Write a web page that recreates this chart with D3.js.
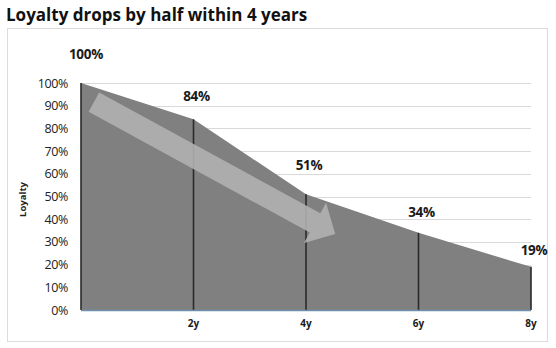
<!DOCTYPE html>
<html>
<head>
<meta charset="utf-8">
<script src="https://cdn.jsdelivr.net/npm/d3@7"></script>
<style>
  html, body { margin: 0; padding: 0; background: #fff; }
  svg { display: block; }
</style>
</head>
<body>
<svg id="chart" width="556" height="348"></svg>
<script>
// Loyalty retention over time
const years = [0, 2, 4, 6, 8];
const loyalty = [100, 84, 51, 34, 19];
const valueLabels = ["100%", "84%", "51%", "34%", "19%"];
const xTickLabels = ["2y", "4y", "6y", "8y"];
const yTicks = [0, 10, 20, 30, 40, 50, 60, 70, 80, 90, 100];
// vertical gap between each point and its value label
const labelGap = [29, 23, 29, 21, 17];

const svg = d3.select("#chart");
const W = 556, H = 348;
const m = { left: 81, right: 25, top: 83, bottom: 38 };

const x = d3.scaleLinear().domain([0, 8]).range([m.left, W - m.right]);
const y = d3.scaleLinear().domain([0, 100]).range([H - m.bottom, m.top]);

const data = years.map((yr, i) => ({ yr, v: loyalty[i], label: valueLabels[i], gap: labelGap[i] }));

// Title
svg.append("text")
  .attr("x", 6).attr("y", 21)
  .attr("font-family", "'Open Sans', Lato, sans-serif")
  .attr("font-weight", 700)
  .attr("font-size", 17)
  .attr("fill", "#111")
  .text("Loyalty drops by half within 4 years");

// Chart frame
svg.append("rect")
  .attr("x", 7.5).attr("y", 28.5)
  .attr("width", 540).attr("height", 313)
  .attr("fill", "none")
  .attr("stroke", "#dcdcdc")
  .attr("stroke-width", 1);

// Horizontal gridlines
svg.append("g")
  .selectAll("line")
  .data(yTicks.filter(t => t > 0))
  .join("line")
  .attr("x1", x(0)).attr("x2", x(8))
  .attr("y1", d => Math.round(y(d)) + 0.5)
  .attr("y2", d => Math.round(y(d)) + 0.5)
  .attr("stroke", "#d9d9d9")
  .attr("stroke-width", 1.2);

// Y axis tick labels
const yAxis = d3.axisLeft(y).tickValues(yTicks).tickFormat(d => d + "%").tickSize(0).tickPadding(13);
const yg = svg.append("g").attr("transform", `translate(${x(0)},0)`).call(yAxis);
yg.select(".domain").remove();
yg.selectAll("text")
  .attr("font-family", "'Open Sans', Lato, sans-serif")
  .attr("font-size", 12.5)
  .attr("fill", "#222")
  .attr("letter-spacing", -0.4);

// Y axis title
svg.append("text")
  .attr("transform", `translate(26,${(y(0) + y(100)) / 2 + 3}) rotate(-90)`)
  .attr("text-anchor", "middle")
  .attr("font-family", "'Open Sans', Lato, sans-serif")
  .attr("font-weight", 700)
  .attr("font-size", 9.5)
  .attr("fill", "#222")
  .text("Loyalty");

// Area
const area = d3.area()
  .x(d => x(d.yr))
  .y0(y(0))
  .y1(d => y(d.v));
svg.append("path")
  .datum(data)
  .attr("d", area)
  .attr("fill", "#808080");

// Vertical drop lines at each point
svg.append("g")
  .selectAll("line")
  .data(data)
  .join("line")
  .attr("x1", d => x(d.yr)).attr("x2", d => x(d.yr))
  .attr("y1", d => y(d.v)).attr("y2", y(0))
  .attr("stroke", "#2a2a2a")
  .attr("stroke-width", 1.6);

// Baseline
svg.append("line")
  .attr("x1", x(0)).attr("x2", x(8))
  .attr("y1", y(0) + 0.5).attr("y2", y(0) + 0.5)
  .attr("stroke", "#6f8fae")
  .attr("stroke-width", 1.5);

// Trend arrow
(function drawArrow() {
  const tail = [x(0.23), y(91.6)];
  const tip = [x(4.52), y(33.5)];
  const shaft = 22, headW = 46, headL = 23;
  const dx = tip[0] - tail[0], dy = tip[1] - tail[1];
  const len = Math.hypot(dx, dy);
  const ux = dx / len, uy = dy / len, nx = -uy, ny = ux;
  const bx = tip[0] - ux * headL, by = tip[1] - uy * headL;
  const p = (cx, cy, off) => [cx + nx * off, cy + ny * off];
  const pts = [
    p(tail[0], tail[1], -shaft / 2),
    p(bx, by, -shaft / 2),
    p(bx, by, -headW / 2),
    tip,
    p(bx, by, headW / 2),
    p(bx, by, shaft / 2),
    p(tail[0], tail[1], shaft / 2)
  ];
  svg.append("path")
    .attr("d", d3.line()(pts) + "Z")
    .attr("fill", "#b0b0b0")
    .attr("fill-opacity", 0.9);
})();

// Value labels
svg.append("g")
  .selectAll("text")
  .data(data)
  .join("text")
  .attr("x", d => x(d.yr) + (d.yr === 0 ? 5 : 3))
  .attr("y", d => y(d.v) - d.gap + 5)
  .attr("text-anchor", "middle")
  .attr("font-family", "'Open Sans', Lato, sans-serif")
  .attr("font-weight", 700)
  .attr("font-size", 13.5)
  .attr("fill", "#1a1a1a")
  .attr("letter-spacing", -0.3)
  .text(d => d.label);

// X tick labels
svg.append("g")
  .selectAll("text")
  .data(xTickLabels)
  .join("text")
  .attr("x", (d, i) => x(years[i + 1]))
  .attr("y", y(0) + 17)
  .attr("text-anchor", "middle")
  .attr("font-family", "'Open Sans', Lato, sans-serif")
  .attr("font-weight", 700)
  .attr("font-size", 10)
  .attr("fill", "#1a1a1a")
  .text(d => d);
</script>
</body>
</html>
